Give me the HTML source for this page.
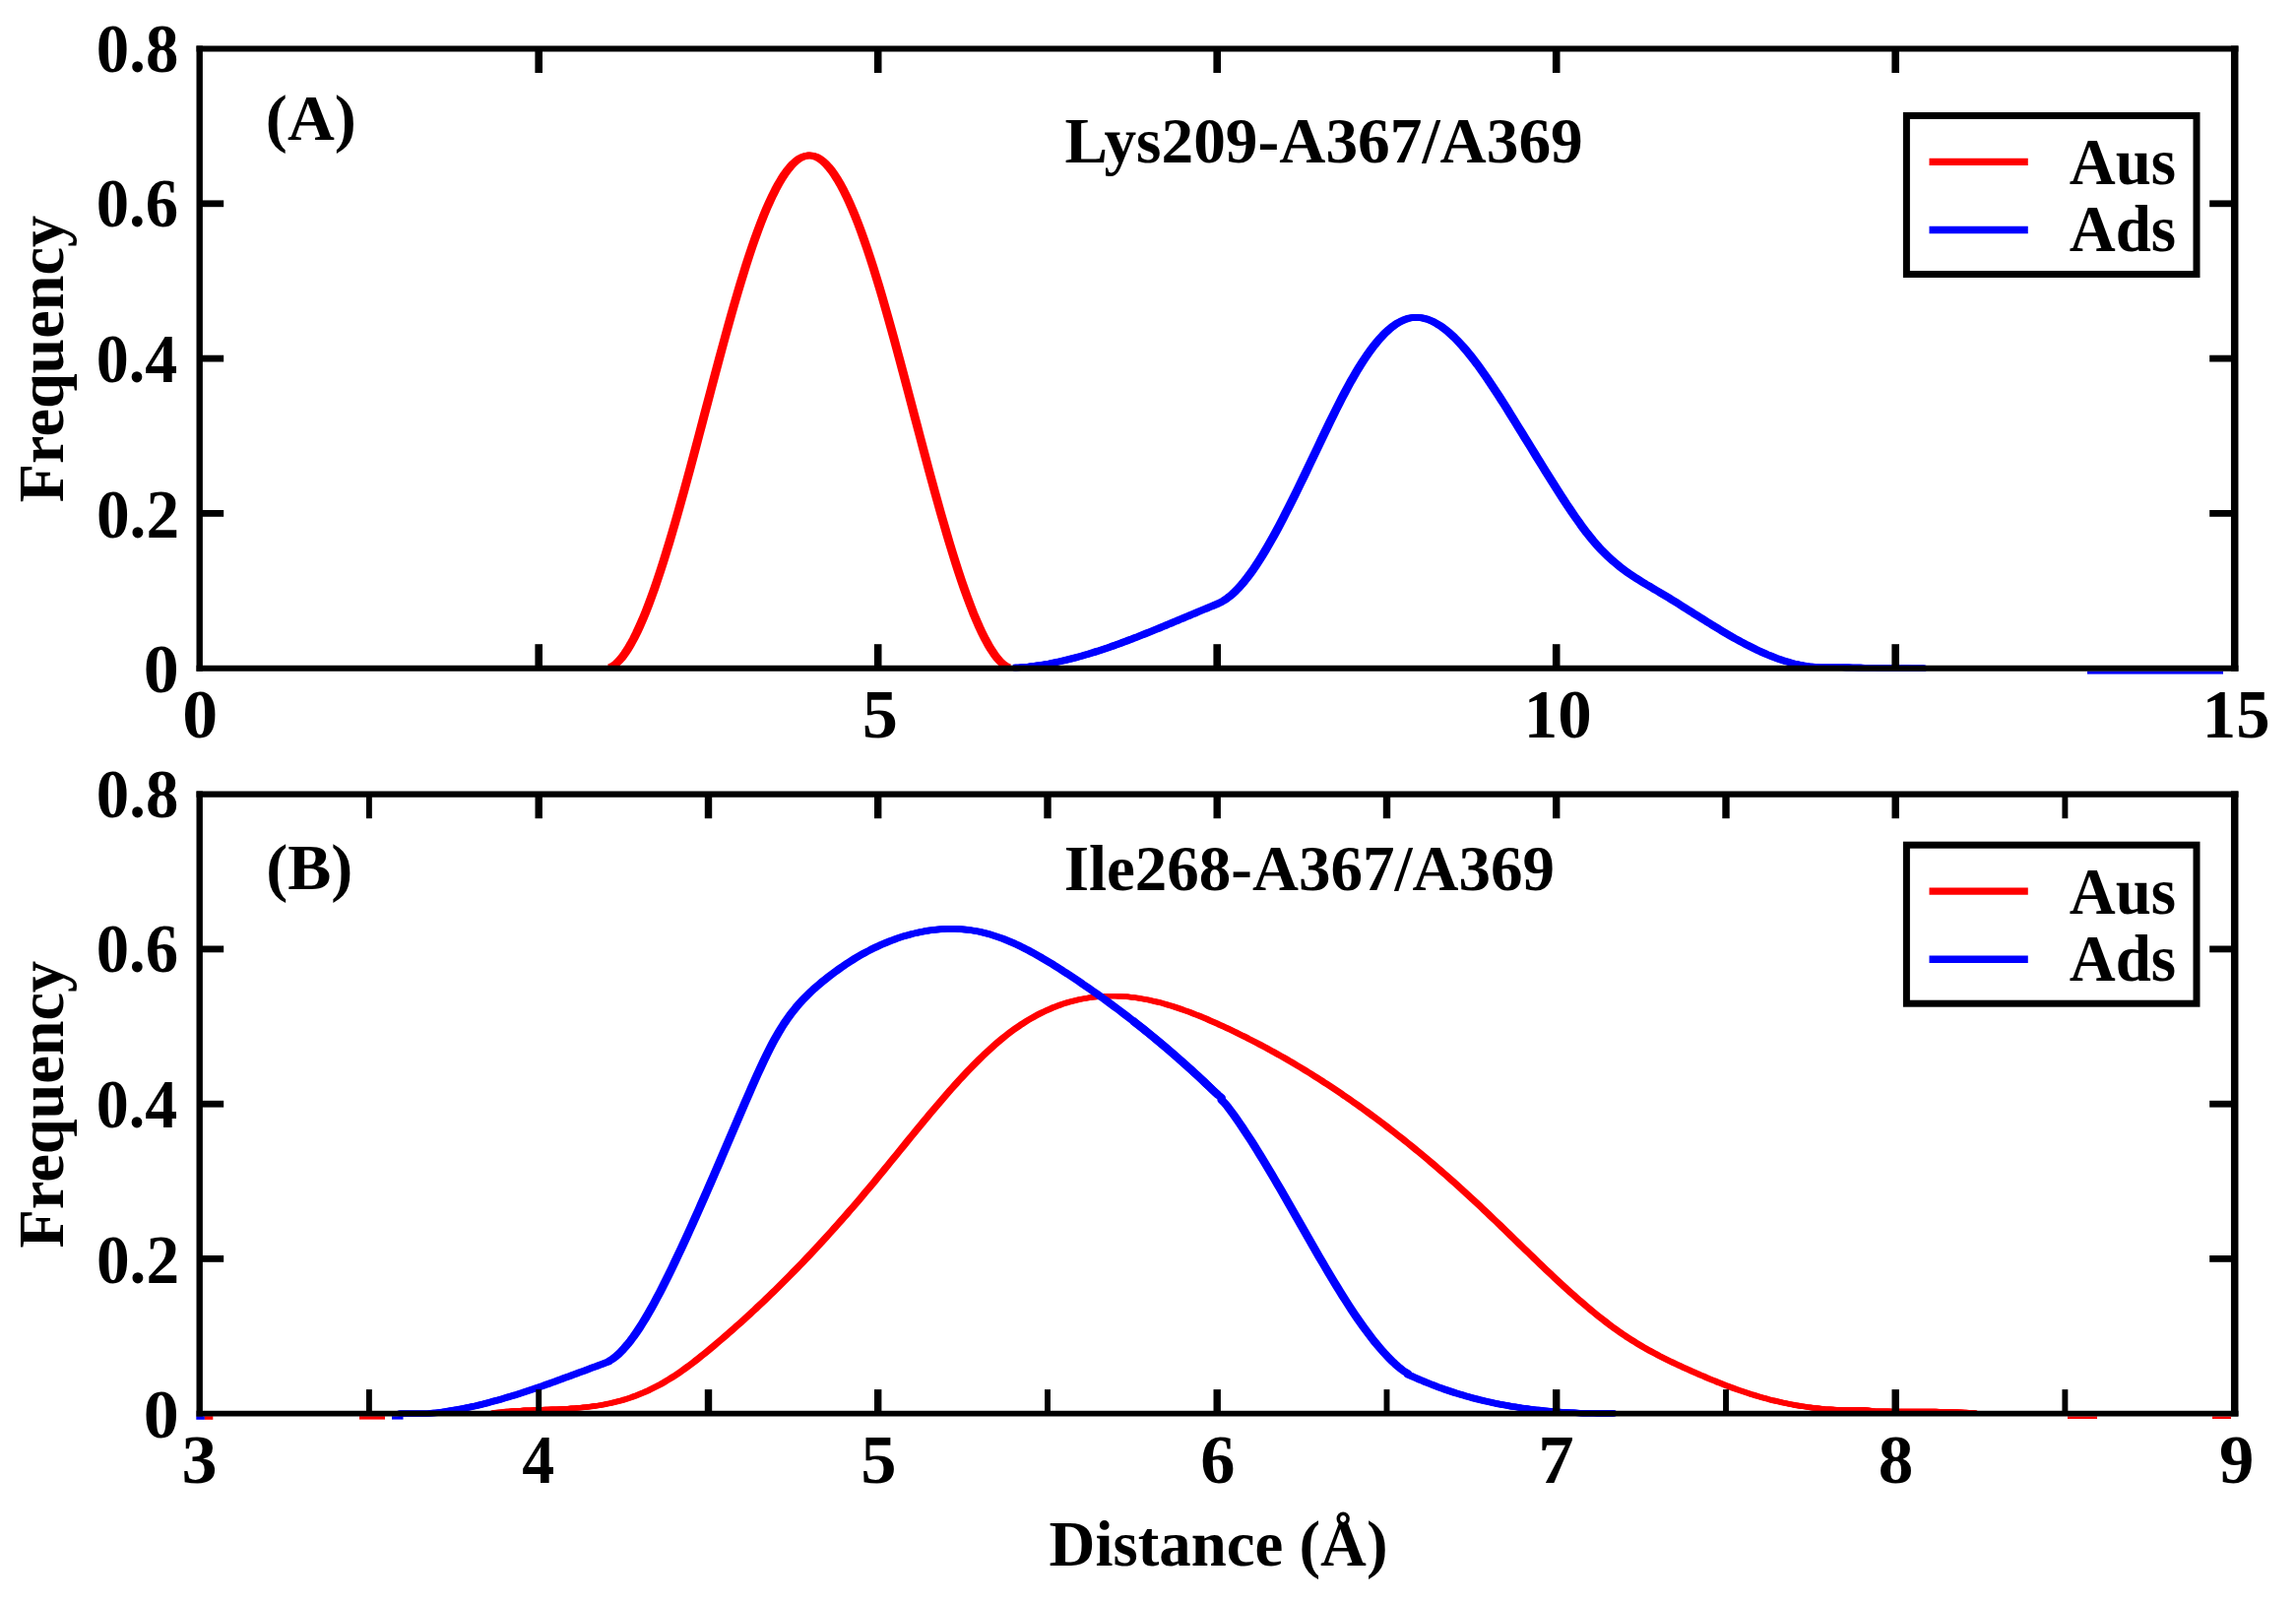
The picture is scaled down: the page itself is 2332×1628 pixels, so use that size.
<!DOCTYPE html>
<html lang="en">
<head>
<meta charset="utf-8">
<title>Distance distributions</title>
<style>
html,body{margin:0;padding:0;background:#fff;}
body{width:2332px;height:1628px;overflow:hidden;}
svg{display:block;filter:blur(0.7px);}
svg text{font-family:"Liberation Serif","Times New Roman",Times,serif;font-weight:bold;font-size:66px;fill:#000;}
.fr{fill:none;stroke:#000;stroke-width:6.2;}
.tk line{stroke:#000;}
.cv{fill:none;stroke-linejoin:round;stroke-linecap:butt;}
</style>
</head>
<body>
<svg xmlns="http://www.w3.org/2000/svg" width="2332" height="1628" viewBox="0 0 2332 1628">
<rect width="2332" height="1628" fill="#fff"/>
<defs>
<clipPath id="ca"><rect x="202.7" y="49.5" width="2067.0" height="632.4000000000001"/></clipPath>
<clipPath id="cb"><rect x="202.7" y="806.7" width="2067.0" height="632.0999999999999"/></clipPath>
</defs>

<!-- Panel A curves -->
<g clip-path="url(#ca)">
<path id="ar" class="cv" stroke="#f00" stroke-width="6.6" d="M619.7,677.7 L622.7,676.3 L625.7,674.0 L628.7,671.1 L631.7,667.7 L634.7,663.6 L637.7,659.1 L640.7,654.0 L643.7,648.5 L646.7,642.5 L649.7,636.0 L652.7,629.2 L655.7,621.9 L658.7,614.2 L661.7,606.2 L664.7,597.8 L667.7,589.0 L670.7,580.0 L673.7,570.7 L676.7,561.1 L679.7,551.2 L682.7,541.1 L685.7,530.8 L688.7,520.3 L691.7,509.7 L694.7,498.8 L697.7,487.9 L700.7,476.8 L703.7,465.6 L706.7,454.3 L709.7,443.0 L712.7,431.6 L715.7,420.2 L718.7,408.8 L721.7,397.5 L724.7,386.1 L727.7,374.8 L730.7,363.6 L733.7,352.5 L736.7,341.5 L739.7,330.6 L742.7,319.9 L745.7,309.4 L748.7,299.1 L751.7,289.0 L754.7,279.2 L757.7,269.6 L760.7,260.3 L763.7,251.3 L766.7,242.7 L769.7,234.4 L772.7,226.4 L775.7,218.8 L778.7,211.6 L781.7,204.8 L784.7,198.4 L787.7,192.4 L790.7,186.9 L793.7,181.8 L796.7,177.1 L799.7,173.0 L802.7,169.3 L805.7,166.1 L808.7,163.4 L811.7,161.2 L814.7,159.6 L817.7,158.5 L820.7,157.9 L823.7,158.0 L826.7,158.6 L829.7,159.7 L832.7,161.4 L835.7,163.6 L838.7,166.4 L841.7,169.7 L844.7,173.4 L847.7,177.7 L850.7,182.4 L853.7,187.5 L856.7,193.1 L859.7,199.2 L862.7,205.7 L865.7,212.5 L868.7,219.8 L871.7,227.4 L874.7,235.4 L877.7,243.8 L880.7,252.5 L883.7,261.5 L886.7,270.8 L889.7,280.4 L892.7,290.3 L895.7,300.4 L898.7,310.8 L901.7,321.3 L904.7,332.1 L907.7,342.9 L910.7,354.0 L913.7,365.1 L916.7,376.3 L919.7,387.6 L922.7,399.0 L925.7,410.4 L928.7,421.8 L931.7,433.2 L934.7,444.5 L937.7,455.8 L940.7,467.1 L943.7,478.3 L946.7,489.4 L949.7,500.3 L952.7,511.1 L955.7,521.8 L958.7,532.2 L961.7,542.5 L964.7,552.6 L967.7,562.4 L970.7,571.9 L973.7,581.2 L976.7,590.2 L979.7,598.9 L982.7,607.2 L985.7,615.2 L988.7,622.9 L991.7,630.1 L994.7,636.9 L997.7,643.3 L1000.7,649.2 L1003.7,654.7 L1006.7,659.7 L1009.7,664.2 L1012.7,668.2 L1015.7,671.6 L1018.7,674.4 L1021.7,676.5 L1024.3,677.8"/>
<use href="#ar" x="-1.2"/><use href="#ar" x="1.2"/>
<path id="ab" class="cv" stroke="#00f" stroke-width="6.6" d="M1030.0,678.1 L1033.0,678.0 L1036.0,677.8 L1039.0,677.5 L1042.0,677.3 L1045.0,677.0 L1048.0,676.6 L1051.0,676.2 L1054.0,675.8 L1057.0,675.4 L1060.0,674.9 L1063.0,674.4 L1066.0,673.9 L1069.0,673.3 L1072.0,672.7 L1075.0,672.1 L1078.0,671.4 L1081.0,670.7 L1084.0,670.0 L1087.0,669.3 L1090.0,668.5 L1093.0,667.7 L1096.0,666.9 L1099.0,666.1 L1102.0,665.2 L1105.0,664.3 L1108.0,663.4 L1111.0,662.5 L1114.0,661.5 L1117.0,660.6 L1120.0,659.6 L1123.0,658.6 L1126.0,657.6 L1129.0,656.5 L1132.0,655.5 L1135.0,654.4 L1138.0,653.3 L1141.0,652.2 L1144.0,651.1 L1147.0,649.9 L1150.0,648.8 L1153.0,647.6 L1156.0,646.5 L1159.0,645.3 L1162.0,644.1 L1165.0,642.9 L1168.0,641.7 L1171.0,640.5 L1174.0,639.3 L1177.0,638.1 L1180.0,636.8 L1183.0,635.6 L1186.0,634.3 L1189.0,633.1 L1192.0,631.8 L1195.0,630.6 L1198.0,629.3 L1201.0,628.1 L1204.0,626.8 L1207.0,625.6 L1210.0,624.3 L1213.0,623.1 L1216.0,621.8 L1219.0,620.5 L1222.0,619.3 L1225.0,618.1 L1228.0,616.8 L1231.0,615.6 L1233.9,614.4 L1236.9,613.1 L1239.9,611.7 L1242.9,610.0 L1245.9,608.0 L1248.9,605.7 L1251.9,603.2 L1254.9,600.3 L1257.9,597.2 L1260.9,593.9 L1263.9,590.3 L1266.9,586.5 L1269.9,582.5 L1272.9,578.3 L1275.9,573.9 L1278.9,569.3 L1281.9,564.5 L1284.9,559.5 L1287.9,554.4 L1290.9,549.2 L1293.9,543.8 L1296.9,538.3 L1299.9,532.7 L1302.9,526.9 L1305.9,521.1 L1308.9,515.2 L1311.9,509.2 L1314.9,503.2 L1317.9,497.1 L1320.9,490.9 L1323.9,484.7 L1326.9,478.5 L1329.9,472.2 L1332.9,465.9 L1335.9,459.6 L1338.9,453.3 L1341.9,447.0 L1344.9,440.8 L1347.9,434.5 L1350.9,428.3 L1353.9,422.2 L1356.9,416.1 L1359.9,410.2 L1362.9,404.3 L1365.9,398.6 L1368.9,393.0 L1371.9,387.5 L1374.9,382.3 L1377.9,377.2 L1380.9,372.2 L1383.9,367.5 L1386.9,363.0 L1389.9,358.6 L1392.9,354.5 L1395.9,350.6 L1398.9,346.9 L1401.9,343.4 L1404.9,340.2 L1407.9,337.2 L1410.9,334.5 L1413.9,332.0 L1416.9,329.8 L1419.9,327.9 L1422.9,326.3 L1425.9,324.9 L1428.9,323.8 L1431.9,323.0 L1434.9,322.6 L1437.9,322.4 L1440.9,322.5 L1443.9,322.8 L1446.9,323.5 L1449.9,324.3 L1452.9,325.5 L1455.9,326.8 L1458.9,328.5 L1461.9,330.3 L1464.9,332.3 L1467.9,334.6 L1470.9,337.0 L1473.9,339.7 L1476.9,342.5 L1479.9,345.5 L1482.9,348.7 L1485.9,352.0 L1488.9,355.5 L1491.9,359.1 L1494.9,362.9 L1497.9,366.7 L1500.9,370.7 L1503.9,374.9 L1506.9,379.1 L1509.9,383.4 L1512.9,387.8 L1515.9,392.3 L1518.9,396.8 L1521.9,401.4 L1524.9,406.1 L1527.9,410.8 L1530.9,415.6 L1533.9,420.4 L1536.9,425.2 L1539.9,430.1 L1542.9,434.9 L1545.9,439.8 L1548.9,444.7 L1551.9,449.5 L1554.9,454.4 L1557.9,459.3 L1560.9,464.2 L1563.9,469.0 L1566.9,473.9 L1569.9,478.7 L1572.9,483.5 L1575.9,488.3 L1578.9,493.1 L1581.9,497.8 L1584.9,502.5 L1587.9,507.1 L1590.9,511.7 L1593.9,516.2 L1596.9,520.6 L1599.9,525.0 L1602.9,529.2 L1605.9,533.4 L1608.9,537.4 L1611.9,541.4 L1614.9,545.1 L1617.9,548.8 L1620.9,552.3 L1623.9,555.7 L1626.9,558.9 L1629.9,561.9 L1632.9,564.8 L1635.9,567.6 L1638.9,570.3 L1641.9,572.8 L1644.9,575.3 L1647.9,577.6 L1650.9,579.8 L1653.9,582.0 L1656.9,584.0 L1659.9,586.0 L1662.9,587.9 L1665.9,589.8 L1668.9,591.7 L1671.9,593.5 L1674.9,595.2 L1677.9,597.0 L1680.9,598.8 L1683.9,600.5 L1686.9,602.3 L1689.9,604.1 L1692.9,605.9 L1695.9,607.7 L1698.9,609.6 L1701.9,611.4 L1704.9,613.3 L1707.9,615.2 L1710.9,617.1 L1713.9,619.0 L1716.9,620.9 L1719.9,622.8 L1722.9,624.6 L1725.9,626.5 L1728.9,628.4 L1731.9,630.3 L1734.9,632.2 L1737.9,634.0 L1740.9,635.9 L1743.9,637.7 L1746.9,639.5 L1749.9,641.3 L1752.9,643.1 L1755.9,644.8 L1758.9,646.6 L1761.9,648.3 L1764.9,649.9 L1767.9,651.6 L1770.9,653.2 L1773.9,654.8 L1776.9,656.3 L1779.9,657.8 L1782.9,659.3 L1785.9,660.7 L1788.9,662.1 L1791.9,663.4 L1794.9,664.7 L1797.9,665.9 L1800.9,667.1 L1803.9,668.3 L1806.9,669.3 L1809.9,670.4 L1812.9,671.3 L1815.9,672.2 L1818.9,673.1 L1821.9,673.9 L1824.9,674.6 L1827.9,675.2 L1830.9,675.8 L1833.9,676.3 L1836.9,676.8 L1839.9,677.1 L1842.9,677.4 L1845.9,677.6 L1848.9,677.8 L1851.9,677.8 L1854.9,677.8 L1857.9,677.7 L1860.0,677.7 L1863.0,677.7 L1866.0,677.7 L1869.0,677.8 L1872.0,677.8 L1875.0,677.9 L1878.0,677.9 L1881.0,678.0 L1884.0,678.0 L1887.0,678.1 L1890.0,678.1 L1893.0,678.2 L1896.0,678.2 L1899.0,678.2 L1902.0,678.3 L1905.0,678.3 L1908.0,678.4 L1911.0,678.4 L1914.0,678.4 L1917.0,678.5 L1920.0,678.5 L1923.0,678.5 L1926.0,678.6 L1929.0,678.6 L1932.0,678.6 L1935.0,678.6 L1938.0,678.6 L1941.0,678.7 L1944.0,678.7 L1947.0,678.7 L1950.0,678.7 L1953.0,678.7 L1955.0,678.7"/>
<use href="#ab" x="-1.2"/><use href="#ab" x="1.2"/>
</g>
<rect x="2120" y="681.6" width="138" height="3" fill="#00f"/>

<!-- Panel B curves -->
<g clip-path="url(#cb)">
<path id="br" class="cv" stroke="#f00" stroke-width="5.3999999999999995" d="M500.0,1435.0 L503.0,1434.8 L506.0,1434.4 L509.0,1434.1 L512.0,1433.8 L515.0,1433.5 L518.0,1433.3 L521.0,1433.0 L524.0,1432.8 L527.0,1432.6 L530.0,1432.5 L533.0,1432.3 L536.0,1432.2 L539.0,1432.1 L542.0,1431.9 L545.0,1431.8 L548.0,1431.7 L551.0,1431.6 L554.0,1431.5 L557.0,1431.4 L560.0,1431.3 L563.0,1431.2 L566.0,1431.1 L569.0,1430.9 L572.0,1430.8 L575.0,1430.6 L578.0,1430.5 L581.0,1430.3 L584.0,1430.1 L587.0,1429.8 L590.0,1429.6 L593.0,1429.3 L596.0,1429.0 L599.0,1428.6 L602.0,1428.2 L605.0,1427.8 L608.0,1427.4 L611.0,1426.9 L614.0,1426.3 L617.0,1425.7 L620.0,1425.1 L623.0,1424.4 L626.0,1423.7 L629.0,1422.9 L632.0,1422.1 L635.0,1421.2 L638.0,1420.2 L641.0,1419.2 L644.0,1418.1 L647.0,1417.0 L650.0,1415.8 L653.0,1414.6 L656.0,1413.2 L659.0,1411.9 L662.0,1410.4 L665.0,1408.9 L668.0,1407.4 L671.0,1405.8 L674.0,1404.1 L677.0,1402.3 L680.0,1400.5 L683.0,1398.6 L686.0,1396.7 L689.0,1394.7 L692.0,1392.6 L695.0,1390.5 L698.0,1388.3 L701.0,1386.1 L704.0,1383.8 L707.0,1381.5 L710.0,1379.1 L713.0,1376.7 L716.0,1374.3 L719.0,1371.9 L722.0,1369.4 L725.0,1366.9 L728.0,1364.3 L731.0,1361.8 L734.0,1359.2 L737.0,1356.6 L740.0,1354.0 L743.0,1351.4 L746.0,1348.8 L749.0,1346.1 L752.0,1343.4 L755.0,1340.7 L758.0,1338.0 L761.0,1335.2 L764.0,1332.4 L767.0,1329.7 L770.0,1326.8 L773.0,1324.0 L776.0,1321.2 L779.0,1318.3 L782.0,1315.4 L785.0,1312.5 L788.0,1309.6 L791.0,1306.6 L794.0,1303.6 L797.0,1300.6 L800.0,1297.6 L803.0,1294.6 L806.0,1291.5 L809.0,1288.5 L812.0,1285.4 L815.0,1282.3 L818.0,1279.1 L821.0,1276.0 L824.0,1272.8 L827.0,1269.6 L830.0,1266.4 L833.0,1263.1 L836.0,1259.9 L839.0,1256.6 L842.0,1253.3 L845.0,1250.0 L848.0,1246.6 L851.0,1243.3 L854.0,1239.9 L857.0,1236.5 L860.0,1233.1 L863.0,1229.6 L866.0,1226.2 L869.0,1222.7 L872.0,1219.2 L875.0,1215.7 L878.0,1212.1 L881.0,1208.6 L884.0,1205.0 L887.0,1201.4 L890.0,1197.7 L893.0,1194.1 L896.0,1190.5 L899.0,1186.8 L902.0,1183.1 L905.0,1179.4 L908.0,1175.8 L911.0,1172.1 L914.0,1168.4 L917.0,1164.7 L920.0,1161.0 L923.0,1157.3 L926.0,1153.6 L929.0,1150.0 L932.0,1146.3 L935.0,1142.7 L938.0,1139.0 L941.0,1135.4 L944.0,1131.8 L947.0,1128.2 L950.0,1124.7 L953.0,1121.2 L956.0,1117.7 L959.0,1114.2 L962.0,1110.8 L965.0,1107.3 L968.0,1104.0 L971.0,1100.6 L974.0,1097.3 L977.0,1094.1 L980.0,1090.9 L983.0,1087.7 L986.0,1084.6 L989.0,1081.5 L992.0,1078.5 L995.0,1075.5 L998.0,1072.6 L1001.0,1069.7 L1004.0,1067.0 L1007.0,1064.2 L1010.0,1061.5 L1013.0,1058.9 L1016.0,1056.4 L1019.0,1053.9 L1022.0,1051.5 L1025.0,1049.2 L1028.0,1046.9 L1031.0,1044.8 L1034.0,1042.7 L1037.0,1040.6 L1040.0,1038.7 L1043.0,1036.8 L1046.0,1035.0 L1049.0,1033.3 L1052.0,1031.6 L1055.0,1030.0 L1058.0,1028.5 L1061.0,1027.1 L1064.0,1025.7 L1067.0,1024.4 L1070.0,1023.1 L1073.0,1022.0 L1076.0,1020.9 L1079.0,1019.8 L1082.0,1018.8 L1085.0,1017.9 L1088.0,1017.1 L1091.0,1016.3 L1094.0,1015.6 L1097.0,1014.9 L1100.0,1014.3 L1103.0,1013.8 L1106.0,1013.3 L1109.0,1012.9 L1112.0,1012.5 L1115.0,1012.2 L1118.0,1012.0 L1121.0,1011.8 L1124.0,1011.7 L1127.0,1011.6 L1130.0,1011.6 L1133.0,1011.6 L1136.0,1011.7 L1139.0,1011.9 L1142.0,1012.1 L1145.0,1012.3 L1148.0,1012.6 L1151.0,1013.0 L1154.0,1013.4 L1157.0,1013.8 L1160.0,1014.3 L1163.0,1014.9 L1166.0,1015.4 L1169.0,1016.1 L1172.0,1016.8 L1175.0,1017.5 L1178.0,1018.2 L1181.0,1019.0 L1184.0,1019.9 L1187.0,1020.8 L1190.0,1021.7 L1193.0,1022.6 L1196.0,1023.6 L1199.0,1024.6 L1202.0,1025.7 L1205.0,1026.7 L1208.0,1027.8 L1211.0,1029.0 L1214.0,1030.2 L1217.0,1031.3 L1220.0,1032.6 L1223.0,1033.8 L1226.0,1035.1 L1229.0,1036.4 L1232.0,1037.7 L1235.0,1039.0 L1238.0,1040.4 L1241.0,1041.7 L1244.0,1043.1 L1247.0,1044.5 L1250.0,1045.9 L1253.0,1047.4 L1256.0,1048.8 L1259.0,1050.3 L1262.0,1051.8 L1265.0,1053.2 L1268.0,1054.8 L1271.0,1056.3 L1274.0,1057.8 L1277.0,1059.4 L1280.0,1061.0 L1283.0,1062.6 L1286.0,1064.2 L1289.0,1065.8 L1292.0,1067.5 L1295.0,1069.1 L1298.0,1070.8 L1301.0,1072.5 L1304.0,1074.2 L1307.0,1075.9 L1310.0,1077.7 L1313.0,1079.4 L1316.0,1081.2 L1319.0,1083.0 L1322.0,1084.8 L1325.0,1086.6 L1328.0,1088.5 L1331.0,1090.3 L1334.0,1092.2 L1337.0,1094.1 L1340.0,1096.0 L1343.0,1097.9 L1346.0,1099.9 L1349.0,1101.8 L1352.0,1103.8 L1355.0,1105.8 L1358.0,1107.8 L1361.0,1109.8 L1364.0,1111.9 L1367.0,1113.9 L1370.0,1116.0 L1373.0,1118.1 L1376.0,1120.2 L1379.0,1122.3 L1382.0,1124.5 L1385.0,1126.6 L1388.0,1128.8 L1391.0,1131.0 L1394.0,1133.2 L1397.0,1135.4 L1400.0,1137.7 L1403.0,1139.9 L1406.0,1142.2 L1409.0,1144.5 L1412.0,1146.8 L1415.0,1149.1 L1418.0,1151.5 L1421.0,1153.8 L1424.0,1156.2 L1427.0,1158.6 L1430.0,1161.0 L1433.0,1163.4 L1436.0,1165.9 L1439.0,1168.3 L1442.0,1170.8 L1445.0,1173.3 L1448.0,1175.8 L1451.0,1178.3 L1454.0,1180.9 L1457.0,1183.4 L1460.0,1186.0 L1463.0,1188.6 L1466.0,1191.2 L1469.0,1193.8 L1472.0,1196.5 L1475.0,1199.1 L1478.0,1201.8 L1481.0,1204.5 L1484.0,1207.2 L1487.0,1209.9 L1490.0,1212.7 L1493.0,1215.4 L1496.0,1218.2 L1499.0,1221.0 L1502.0,1223.8 L1505.0,1226.6 L1508.0,1229.5 L1511.0,1232.3 L1514.0,1235.2 L1517.0,1238.1 L1520.0,1240.9 L1523.0,1243.8 L1526.0,1246.7 L1529.0,1249.6 L1532.0,1252.5 L1535.0,1255.5 L1538.0,1258.4 L1541.0,1261.3 L1544.0,1264.2 L1547.0,1267.1 L1550.0,1270.0 L1553.0,1272.9 L1556.0,1275.8 L1559.0,1278.7 L1562.0,1281.6 L1565.0,1284.5 L1568.0,1287.4 L1571.0,1290.2 L1574.0,1293.0 L1577.0,1295.9 L1580.0,1298.7 L1583.0,1301.5 L1586.0,1304.2 L1589.0,1307.0 L1592.0,1309.7 L1595.0,1312.4 L1598.0,1315.1 L1601.0,1317.7 L1604.0,1320.4 L1607.0,1322.9 L1610.0,1325.5 L1613.0,1328.0 L1616.0,1330.6 L1619.0,1333.0 L1622.0,1335.5 L1625.0,1337.9 L1628.0,1340.2 L1631.0,1342.5 L1634.0,1344.8 L1637.0,1347.1 L1640.0,1349.2 L1643.0,1351.4 L1646.0,1353.5 L1649.0,1355.6 L1652.0,1357.6 L1655.0,1359.5 L1658.0,1361.4 L1661.0,1363.3 L1664.0,1365.1 L1667.0,1366.9 L1670.0,1368.7 L1673.0,1370.4 L1676.0,1372.0 L1679.0,1373.6 L1682.0,1375.2 L1685.0,1376.8 L1688.0,1378.3 L1691.0,1379.8 L1694.0,1381.3 L1697.0,1382.8 L1700.0,1384.2 L1703.0,1385.6 L1706.0,1387.0 L1709.0,1388.4 L1712.0,1389.7 L1715.0,1391.1 L1718.0,1392.4 L1721.0,1393.7 L1724.0,1395.1 L1727.0,1396.4 L1730.0,1397.6 L1733.0,1398.9 L1736.0,1400.2 L1739.0,1401.4 L1742.0,1402.6 L1745.0,1403.9 L1748.0,1405.0 L1751.0,1406.2 L1754.0,1407.4 L1757.0,1408.5 L1760.0,1409.6 L1763.0,1410.7 L1766.0,1411.8 L1769.0,1412.8 L1772.0,1413.8 L1775.0,1414.8 L1778.0,1415.8 L1781.0,1416.7 L1784.0,1417.6 L1787.0,1418.5 L1790.0,1419.4 L1793.0,1420.2 L1796.0,1421.0 L1799.0,1421.8 L1802.0,1422.5 L1805.0,1423.2 L1808.0,1423.9 L1811.0,1424.6 L1814.0,1425.2 L1817.0,1425.8 L1820.0,1426.4 L1823.0,1427.0 L1826.0,1427.5 L1829.0,1428.0 L1832.0,1428.4 L1835.0,1428.9 L1838.0,1429.3 L1841.0,1429.7 L1844.0,1430.0 L1847.0,1430.3 L1850.0,1430.6 L1853.0,1430.9 L1856.0,1431.1 L1859.0,1431.3 L1862.0,1431.5 L1865.0,1431.7 L1868.0,1431.8 L1871.0,1431.9 L1874.0,1431.9 L1877.0,1432.0 L1880.0,1432.0 L1883.0,1431.9 L1886.0,1431.9 L1889.0,1431.8 L1892.0,1431.8 L1894.3,1431.9 L1897.3,1432.2 L1900.3,1432.6 L1903.3,1432.9 L1906.3,1433.1 L1909.3,1433.2 L1912.3,1433.3 L1915.3,1433.3 L1918.3,1433.3 L1921.3,1433.4 L1924.3,1433.4 L1927.3,1433.4 L1930.3,1433.4 L1933.3,1433.4 L1936.3,1433.4 L1939.3,1433.4 L1942.3,1433.4 L1945.3,1433.4 L1948.3,1433.5 L1951.3,1433.5 L1954.3,1433.5 L1957.3,1433.5 L1960.3,1433.5 L1963.3,1433.5 L1966.3,1433.5 L1969.3,1433.6 L1972.3,1433.6 L1975.3,1433.6 L1978.3,1433.7 L1981.3,1433.8 L1984.3,1433.9 L1987.3,1434.0 L1990.3,1434.1 L1993.3,1434.3 L1996.3,1434.4 L1999.3,1434.6 L2002.3,1434.7 L2005.3,1434.9 L2007.0,1434.9"/>
<use href="#br" x="-1.2"/><use href="#br" x="1.2"/>
<path id="bb" class="cv" stroke="#00f" stroke-width="6.3999999999999995" d="M405.0,1435.6 L408.0,1435.6 L411.0,1435.6 L414.0,1435.6 L417.0,1435.6 L420.0,1435.6 L423.0,1435.6 L426.0,1435.6 L429.0,1435.6 L432.0,1435.6 L435.0,1435.6 L438.0,1435.3 L441.0,1435.0 L444.0,1434.7 L447.0,1434.3 L450.0,1433.9 L453.0,1433.5 L456.0,1433.0 L459.0,1432.5 L462.0,1432.0 L465.0,1431.5 L468.0,1430.9 L471.0,1430.3 L474.0,1429.7 L477.0,1429.1 L480.0,1428.4 L483.0,1427.8 L486.0,1427.1 L489.0,1426.3 L492.0,1425.6 L495.0,1424.8 L498.0,1424.0 L501.0,1423.2 L504.0,1422.4 L507.0,1421.6 L510.0,1420.7 L513.0,1419.8 L516.0,1418.9 L519.0,1418.0 L522.0,1417.1 L525.0,1416.2 L528.0,1415.2 L531.0,1414.3 L534.0,1413.3 L537.0,1412.3 L540.0,1411.3 L543.0,1410.3 L546.0,1409.2 L549.0,1408.2 L552.0,1407.2 L555.0,1406.1 L558.0,1405.1 L561.0,1404.0 L564.0,1402.9 L567.0,1401.8 L570.0,1400.7 L573.0,1399.6 L576.0,1398.5 L579.0,1397.4 L582.0,1396.3 L585.0,1395.2 L588.0,1394.1 L591.0,1393.0 L594.0,1391.9 L597.0,1390.8 L600.0,1389.6 L603.0,1388.5 L606.0,1387.4 L609.0,1386.3 L612.0,1385.2 L615.0,1384.1 L618.0,1383.0 L619.5,1381.7 L622.5,1379.9 L625.5,1377.7 L628.5,1375.0 L631.5,1372.0 L634.5,1368.7 L637.5,1365.2 L640.5,1361.4 L643.5,1357.4 L646.5,1353.1 L649.5,1348.6 L652.5,1343.9 L655.5,1339.0 L658.5,1333.9 L661.5,1328.6 L664.5,1323.2 L667.5,1317.6 L670.5,1311.9 L673.5,1306.0 L676.5,1300.0 L679.5,1294.0 L682.5,1287.8 L685.5,1281.5 L688.5,1275.2 L691.5,1268.8 L694.5,1262.3 L697.5,1255.8 L700.5,1249.2 L703.5,1242.6 L706.5,1235.9 L709.5,1229.2 L712.5,1222.4 L715.5,1215.6 L718.5,1208.7 L721.5,1201.9 L724.5,1195.0 L727.5,1188.0 L730.5,1181.1 L733.5,1174.1 L736.5,1167.1 L739.5,1160.1 L742.5,1153.1 L745.5,1146.1 L748.5,1139.1 L751.5,1132.1 L754.5,1125.1 L757.5,1118.1 L760.5,1111.2 L763.5,1104.3 L766.5,1097.5 L769.5,1090.8 L772.5,1084.3 L775.5,1077.9 L778.5,1071.6 L781.5,1065.6 L784.5,1059.8 L787.5,1054.3 L790.5,1049.1 L793.5,1044.1 L796.5,1039.4 L799.5,1035.0 L802.5,1030.8 L805.5,1026.9 L808.5,1023.2 L811.5,1019.7 L814.5,1016.3 L817.5,1013.2 L820.5,1010.2 L823.5,1007.3 L826.5,1004.5 L829.5,1001.9 L832.5,999.3 L835.5,996.8 L838.5,994.4 L841.5,992.0 L844.5,989.7 L847.5,987.5 L850.5,985.3 L853.5,983.1 L856.5,981.1 L859.5,979.0 L862.5,977.1 L865.5,975.2 L868.5,973.3 L871.5,971.5 L874.5,969.8 L877.5,968.1 L880.5,966.5 L883.5,965.0 L886.5,963.4 L889.5,962.0 L892.5,960.6 L895.5,959.2 L898.5,958.0 L901.5,956.7 L904.5,955.5 L907.5,954.4 L910.5,953.3 L913.5,952.3 L916.5,951.3 L919.5,950.4 L922.5,949.6 L925.5,948.7 L928.5,948.0 L931.5,947.3 L934.5,946.6 L937.5,946.1 L940.5,945.5 L943.5,945.0 L946.5,944.6 L949.5,944.3 L952.5,944.0 L955.5,943.7 L958.5,943.5 L961.5,943.4 L964.5,943.3 L967.5,943.3 L970.5,943.4 L973.5,943.5 L976.5,943.7 L979.5,944.0 L982.5,944.3 L985.5,944.7 L988.5,945.1 L991.5,945.6 L994.5,946.2 L997.5,946.9 L1000.5,947.6 L1003.5,948.4 L1006.5,949.3 L1009.5,950.2 L1012.5,951.2 L1015.5,952.2 L1018.5,953.3 L1021.5,954.5 L1024.5,955.7 L1027.5,957.0 L1030.5,958.3 L1033.5,959.7 L1036.5,961.2 L1039.5,962.6 L1042.5,964.2 L1045.5,965.7 L1048.5,967.4 L1051.5,969.0 L1054.5,970.7 L1057.5,972.4 L1060.5,974.2 L1063.5,976.0 L1066.5,977.8 L1069.5,979.6 L1072.5,981.5 L1075.5,983.4 L1078.5,985.3 L1081.5,987.3 L1084.5,989.2 L1087.5,991.2 L1090.5,993.2 L1093.5,995.2 L1096.5,997.2 L1099.5,999.3 L1102.5,1001.3 L1105.5,1003.4 L1108.5,1005.5 L1111.5,1007.6 L1114.5,1009.7 L1117.5,1011.9 L1120.5,1014.0 L1123.5,1016.2 L1126.5,1018.4 L1129.5,1020.6 L1132.5,1022.8 L1135.5,1025.0 L1138.5,1027.3 L1141.5,1029.6 L1144.5,1031.9 L1147.5,1034.2 L1150.5,1036.5 L1153.5,1038.9 L1156.5,1041.2 L1159.5,1043.6 L1162.5,1046.0 L1165.5,1048.4 L1168.5,1050.9 L1171.5,1053.3 L1174.5,1055.8 L1177.5,1058.3 L1180.5,1060.8 L1183.5,1063.4 L1186.5,1065.9 L1189.5,1068.5 L1192.5,1071.1 L1195.5,1073.7 L1198.5,1076.4 L1201.5,1079.0 L1204.5,1081.7 L1207.5,1084.4 L1210.5,1087.1 L1213.5,1089.9 L1216.5,1092.6 L1219.5,1095.4 L1222.5,1098.2 L1225.5,1101.1 L1228.5,1103.9 L1231.5,1106.8 L1234.5,1109.6 L1237.5,1112.3 L1240.5,1114.8 L1240.8,1117.2 L1243.8,1120.2 L1246.8,1123.8 L1249.8,1127.8 L1252.8,1131.9 L1255.8,1136.1 L1258.8,1140.5 L1261.8,1144.9 L1264.8,1149.4 L1267.8,1154.0 L1270.8,1158.6 L1273.8,1163.3 L1276.8,1168.1 L1279.8,1173.0 L1282.8,1177.9 L1285.8,1182.8 L1288.8,1187.8 L1291.8,1192.9 L1294.8,1198.0 L1297.8,1203.1 L1300.8,1208.2 L1303.8,1213.4 L1306.8,1218.6 L1309.8,1223.9 L1312.8,1229.1 L1315.8,1234.4 L1318.8,1239.6 L1321.8,1244.9 L1324.8,1250.1 L1327.8,1255.4 L1330.8,1260.6 L1333.8,1265.9 L1336.8,1271.1 L1339.8,1276.3 L1342.8,1281.4 L1345.8,1286.5 L1348.8,1291.6 L1351.8,1296.6 L1354.8,1301.6 L1357.8,1306.5 L1360.8,1311.4 L1363.8,1316.2 L1366.8,1320.9 L1369.8,1325.6 L1372.8,1330.2 L1375.8,1334.7 L1378.8,1339.1 L1381.8,1343.4 L1384.8,1347.6 L1387.8,1351.7 L1390.8,1355.7 L1393.8,1359.6 L1396.8,1363.4 L1399.8,1367.0 L1402.8,1370.5 L1405.8,1373.9 L1408.8,1377.1 L1411.8,1380.2 L1414.8,1383.2 L1417.8,1386.0 L1420.8,1388.6 L1423.8,1391.0 L1426.8,1393.1 L1429.8,1394.8 L1430.0,1396.1 L1433.0,1397.3 L1436.0,1398.6 L1439.0,1399.9 L1442.0,1401.2 L1445.0,1402.4 L1448.0,1403.7 L1451.0,1404.9 L1454.0,1406.1 L1457.0,1407.2 L1460.0,1408.4 L1463.0,1409.5 L1466.0,1410.6 L1469.0,1411.6 L1472.0,1412.6 L1475.0,1413.6 L1478.0,1414.6 L1481.0,1415.5 L1484.0,1416.4 L1487.0,1417.3 L1490.0,1418.2 L1493.0,1419.0 L1496.0,1419.8 L1499.0,1420.6 L1502.0,1421.4 L1505.0,1422.1 L1508.0,1422.8 L1511.0,1423.5 L1514.0,1424.2 L1517.0,1424.8 L1520.0,1425.5 L1523.0,1426.1 L1526.0,1426.6 L1529.0,1427.2 L1532.0,1427.7 L1535.0,1428.3 L1538.0,1428.7 L1541.0,1429.2 L1544.0,1429.7 L1547.0,1430.1 L1550.0,1430.5 L1553.0,1430.9 L1556.0,1431.3 L1559.0,1431.7 L1562.0,1432.0 L1565.0,1432.3 L1568.0,1432.6 L1571.0,1432.9 L1574.0,1433.2 L1577.0,1433.5 L1580.0,1433.7 L1583.0,1433.9 L1586.0,1434.1 L1589.0,1434.3 L1592.0,1434.5 L1595.0,1434.7 L1598.0,1434.8 L1601.0,1434.9 L1604.0,1435.1 L1607.0,1435.2 L1610.0,1435.3 L1613.0,1435.3 L1616.0,1435.4 L1619.0,1435.4 L1622.0,1435.5 L1625.0,1435.5 L1628.0,1435.5 L1631.0,1435.5 L1634.0,1435.5 L1637.0,1435.5 L1640.0,1435.5"/>
<use href="#bb" x="-1.2"/><use href="#bb" x="1.2"/>
<path class="cv" stroke="#00f" stroke-width="8.1" stroke-linecap="round" d="M1150.5,1036.5 L1153.5,1038.9 L1156.5,1041.2 L1159.5,1043.6 L1162.5,1046.0 L1165.5,1048.4 L1168.5,1050.9 L1171.5,1053.3 L1174.5,1055.8 L1177.5,1058.3 L1180.5,1060.8 L1183.5,1063.4 L1186.5,1065.9 L1189.5,1068.5 L1192.5,1071.1 L1195.5,1073.7 L1198.5,1076.4 L1201.5,1079.0 L1204.5,1081.7 L1207.5,1084.4 L1210.5,1087.1 L1213.5,1089.9 L1216.5,1092.6 L1219.5,1095.4 L1222.5,1098.2 L1225.5,1101.1 L1228.5,1103.9 L1231.5,1106.8 L1234.5,1109.6 L1237.5,1112.3"/>
</g>
<g>
<rect x="199.3" y="1438.2" width="8.6" height="3.6" fill="#00f"/>
<rect x="207.9" y="1438.2" width="8.4" height="3.6" fill="#f00"/>
<rect x="365" y="1438.2" width="26" height="3.4" fill="#f00"/>
<rect x="398" y="1438.2" width="11.5" height="3.4" fill="#00f"/>
<rect x="2100" y="1438.4" width="30" height="2.6" fill="#f00"/>
<rect x="2247" y="1438.4" width="19" height="2.6" fill="#f00"/>
</g>

<!-- Frames and ticks -->
<g class="tk">
<line x1="202.7" y1="206.8" x2="227.2" y2="206.8" stroke-width="6.8"/>
<line x1="2269.7" y1="206.8" x2="2244.2" y2="206.8" stroke-width="6.8"/>
<line x1="202.7" y1="364.1" x2="227.2" y2="364.1" stroke-width="6.8"/>
<line x1="2269.7" y1="364.1" x2="2244.2" y2="364.1" stroke-width="6.8"/>
<line x1="202.7" y1="521.4" x2="227.2" y2="521.4" stroke-width="6.8"/>
<line x1="2269.7" y1="521.4" x2="2244.2" y2="521.4" stroke-width="6.8"/>
<line x1="547.2" y1="49.5" x2="547.2" y2="74.0" stroke-width="7.6"/>
<line x1="547.2" y1="678.7" x2="547.2" y2="654.2" stroke-width="7.6"/>
<line x1="891.7" y1="49.5" x2="891.7" y2="74.0" stroke-width="7.6"/>
<line x1="891.7" y1="678.7" x2="891.7" y2="654.2" stroke-width="7.6"/>
<line x1="1236.2" y1="49.5" x2="1236.2" y2="74.0" stroke-width="7.6"/>
<line x1="1236.2" y1="678.7" x2="1236.2" y2="654.2" stroke-width="7.6"/>
<line x1="1580.7" y1="49.5" x2="1580.7" y2="74.0" stroke-width="7.6"/>
<line x1="1580.7" y1="678.7" x2="1580.7" y2="654.2" stroke-width="7.6"/>
<line x1="1925.2" y1="49.5" x2="1925.2" y2="74.0" stroke-width="7.6"/>
<line x1="1925.2" y1="678.7" x2="1925.2" y2="654.2" stroke-width="7.6"/>
<line x1="202.7" y1="963.9" x2="227.2" y2="963.9" stroke-width="6.8"/>
<line x1="2269.7" y1="963.9" x2="2244.2" y2="963.9" stroke-width="6.8"/>
<line x1="202.7" y1="1121.2" x2="227.2" y2="1121.2" stroke-width="6.8"/>
<line x1="2269.7" y1="1121.2" x2="2244.2" y2="1121.2" stroke-width="6.8"/>
<line x1="202.7" y1="1278.4" x2="227.2" y2="1278.4" stroke-width="6.8"/>
<line x1="2269.7" y1="1278.4" x2="2244.2" y2="1278.4" stroke-width="6.8"/>
<line x1="374.9" y1="806.7" x2="374.9" y2="831.2" stroke-width="5.9"/>
<line x1="374.9" y1="1435.6" x2="374.9" y2="1411.1" stroke-width="5.9"/>
<line x1="547.2" y1="806.7" x2="547.2" y2="831.2" stroke-width="7.4"/>
<line x1="547.2" y1="1435.6" x2="547.2" y2="1411.1" stroke-width="5.9"/>
<line x1="719.5" y1="806.7" x2="719.5" y2="831.2" stroke-width="7.4"/>
<line x1="719.5" y1="1435.6" x2="719.5" y2="1411.1" stroke-width="7.4"/>
<line x1="891.7" y1="806.7" x2="891.7" y2="831.2" stroke-width="7.4"/>
<line x1="891.7" y1="1435.6" x2="891.7" y2="1411.1" stroke-width="7.4"/>
<line x1="1064.0" y1="806.7" x2="1064.0" y2="831.2" stroke-width="7.4"/>
<line x1="1064.0" y1="1435.6" x2="1064.0" y2="1411.1" stroke-width="5.9"/>
<line x1="1236.2" y1="806.7" x2="1236.2" y2="831.2" stroke-width="7.4"/>
<line x1="1236.2" y1="1435.6" x2="1236.2" y2="1411.1" stroke-width="7.4"/>
<line x1="1408.5" y1="806.7" x2="1408.5" y2="831.2" stroke-width="7.4"/>
<line x1="1408.5" y1="1435.6" x2="1408.5" y2="1411.1" stroke-width="5.9"/>
<line x1="1580.7" y1="806.7" x2="1580.7" y2="831.2" stroke-width="7.4"/>
<line x1="1580.7" y1="1435.6" x2="1580.7" y2="1411.1" stroke-width="7.4"/>
<line x1="1753.0" y1="806.7" x2="1753.0" y2="831.2" stroke-width="7.4"/>
<line x1="1753.0" y1="1435.6" x2="1753.0" y2="1411.1" stroke-width="5.9"/>
<line x1="1925.2" y1="806.7" x2="1925.2" y2="831.2" stroke-width="7.4"/>
<line x1="1925.2" y1="1435.6" x2="1925.2" y2="1411.1" stroke-width="7.4"/>
<line x1="2097.4" y1="806.7" x2="2097.4" y2="831.2" stroke-width="5.9"/>
<line x1="2097.4" y1="1435.6" x2="2097.4" y2="1411.1" stroke-width="5.9"/>
</g>
<g stroke="#000" fill="none"><line x1="202.7" y1="46.40" x2="202.7" y2="681.65" stroke-width="6.4"/><line x1="2269.7" y1="46.40" x2="2269.7" y2="681.65" stroke-width="7.5"/><line x1="199.50" y1="49.5" x2="2273.45" y2="49.5" stroke-width="6.2"/><line x1="199.50" y1="678.7" x2="2273.45" y2="678.7" stroke-width="5.9"/></g>
<g stroke="#000" fill="none"><line x1="202.7" y1="803.60" x2="202.7" y2="1438.55" stroke-width="6.4"/><line x1="2269.7" y1="803.60" x2="2269.7" y2="1438.55" stroke-width="7.5"/><line x1="199.50" y1="806.7" x2="2273.45" y2="806.7" stroke-width="6.2"/><line x1="199.50" y1="1435.6" x2="2273.45" y2="1435.6" stroke-width="5.9"/></g>

<!-- Legends -->
<rect x="1936.4" y="117.5" width="294.5999999999999" height="161.0" fill="#fff" stroke="#000" stroke-width="7"/>
<line x1="1959.5" y1="164.4" x2="2059.8" y2="164.4" stroke="#f00" stroke-width="7.4"/>
<line x1="1959.5" y1="233.5" x2="2059.8" y2="233.5" stroke="#00f" stroke-width="7.4"/>

<rect x="1936.4" y="858.2" width="294.5999999999999" height="161.0" fill="#fff" stroke="#000" stroke-width="7"/>
<line x1="1959.5" y1="905.1" x2="2059.8" y2="905.1" stroke="#f00" stroke-width="7.4"/>
<line x1="1959.5" y1="974.2" x2="2059.8" y2="974.2" stroke="#00f" stroke-width="7.4"/>

<!-- Text -->
<text id="yA0" transform="translate(97.81,72.50) scale(0.9682,1)" style="font-size:69px">0.8</text>
<text id="yB0" transform="translate(97.81,829.70) scale(0.9682,1)" style="font-size:69px">0.8</text>
<text id="yA1" transform="translate(97.70,230.20) scale(0.9661,1)" style="font-size:69px">0.6</text>
<text id="yB1" transform="translate(97.70,987.32) scale(0.9661,1)" style="font-size:69px">0.6</text>
<text id="yA2" transform="translate(97.78,387.90) scale(0.9568,1)" style="font-size:69px">0.4</text>
<text id="yB2" transform="translate(97.78,1144.95) scale(0.9568,1)" style="font-size:69px">0.4</text>
<text id="yA3" transform="translate(97.92,545.60) scale(0.9760,1)" style="font-size:69px">0.2</text>
<text id="yB3" transform="translate(97.92,1302.58) scale(0.9760,1)" style="font-size:69px">0.2</text>
<text id="yA4" transform="translate(145.81,703.30) scale(1.0444,1)" style="font-size:69px">0</text>
<text id="yB4" transform="translate(145.81,1460.20) scale(1.0444,1)" style="font-size:69px">0</text>
<text id="xA0" transform="translate(185.27,749.40) scale(1.0409,1)" style="font-size:69px">0</text>
<text id="xA5" transform="translate(875.78,749.40) scale(1.0485,1)" style="font-size:69px">5</text>
<text id="xA10" transform="translate(1547.73,749.40) scale(0.9983,1)" style="font-size:69px">10</text>
<text id="xA15" transform="translate(2236.82,749.40) scale(0.9960,1)" style="font-size:69px">15</text>
<text id="xB3" transform="translate(184.45,1506.30) scale(1.0442,1)" style="font-size:69px">3</text>
<text id="xB4" transform="translate(530.36,1506.30) scale(0.9544,1)" style="font-size:69px">4</text>
<text id="xB5" transform="translate(874.15,1506.30) scale(1.0521,1)" style="font-size:69px">5</text>
<text id="xB6" transform="translate(1219.32,1506.30) scale(1.0197,1)" style="font-size:69px">6</text>
<text id="xB7" transform="translate(1562.26,1506.30) scale(1.0553,1)" style="font-size:69px">7</text>
<text id="xB8" transform="translate(1907.85,1506.30) scale(1.0319,1)" style="font-size:69px">8</text>
<text id="xB9" transform="translate(2254.04,1506.30) scale(1.0254,1)" style="font-size:69px">9</text>
<text id="freqA" transform="translate(63.60,510.17) rotate(-90) scale(0.9732,1)" style="font-size:66px">Frequency</text>
<text id="freqB" transform="translate(63.60,1267.47) rotate(-90) scale(0.9743,1)" style="font-size:66px">Frequency</text>
<text id="dist" transform="translate(1065.56,1590.40) scale(0.9828,1)" style="font-size:66px">Distance (Å)</text>
<text id="pA" transform="translate(269.84,141.70) scale(1.0032,1)" style="font-size:66px">(A)</text>
<text id="pB" transform="translate(270.21,903.30) scale(1.0025,1)" style="font-size:66px">(B)</text>
<text id="tA" transform="translate(1081.47,165.40) scale(0.9899,1)" style="font-size:66px">Lys209-A367/A369</text>
<text id="tB" transform="translate(1080.64,903.80) scale(0.9849,1)" style="font-size:66px">Ile268-A367/A369</text>
<text id="ausA" transform="translate(2101.74,187.40) scale(0.9561,1)" style="font-size:68px">Aus</text>
<text id="adsA" transform="translate(2101.74,255.20) scale(0.9561,1)" style="font-size:68px">Ads</text>
<text id="ausB" transform="translate(2101.74,928.30) scale(0.9561,1)" style="font-size:68px">Aus</text>
<text id="adsB" transform="translate(2101.74,996.00) scale(0.9561,1)" style="font-size:68px">Ads</text>

</svg>
</body>
</html>
